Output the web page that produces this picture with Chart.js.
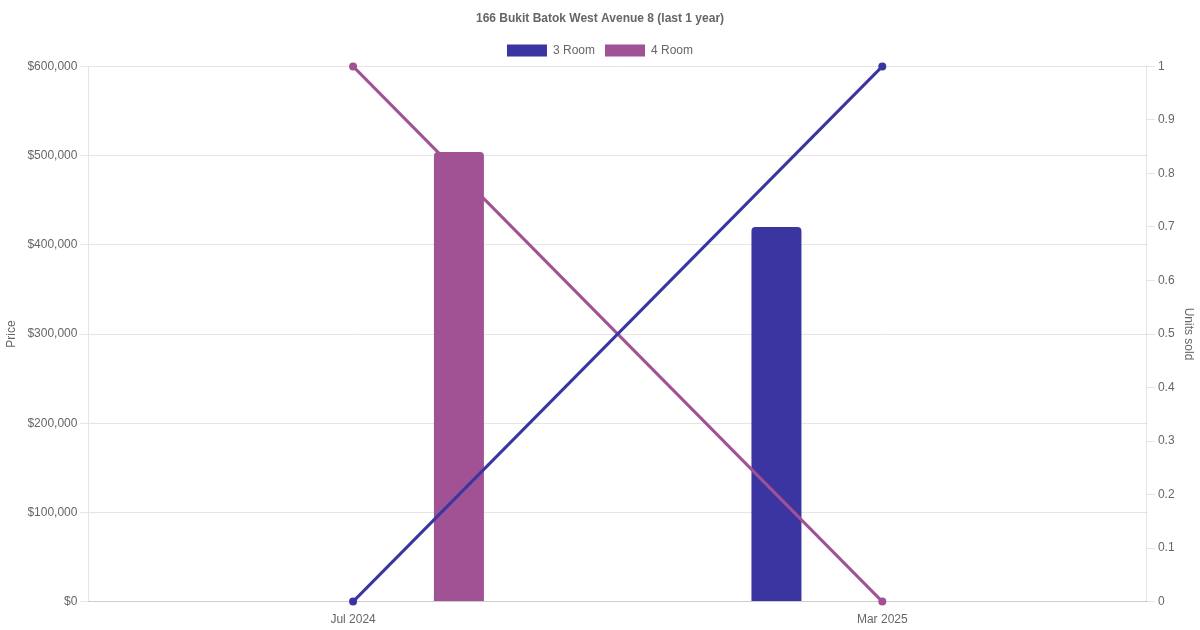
<!DOCTYPE html>
<html>
<head>
<meta charset="utf-8">
<script src="https://cdn.jsdelivr.net/npm/chart.js@4/dist/chart.umd.min.js"></script>
<style>
html,body{margin:0;padding:0;background:#fff;}
#wrap{width:1200px;height:630px;}
</style>
</head>
<body>
<div id="wrap"><canvas id="c"></canvas></div>
<script>
const categories = ["Jul 2024", "Mar 2025"];
const price3Room = [null, 420000];
const price4Room = [504000, null];
const units3Room = [0, 1];
const units4Room = [1, 0];
const priceTicks = [0, 100000, 200000, 300000, 400000, 500000, 600000];

const c3 = "#3a35a1";
const c4 = "#a05294";

Chart.defaults.font.family = "'Liberation Sans', Arial, sans-serif";
Chart.defaults.color = "#666";

new Chart(document.getElementById("c"), {
  data: {
    labels: categories,
    datasets: [
      { type: "bar", label: "3 Room", data: price3Room, backgroundColor: c3, borderColor: c3, yAxisID: "y", maxBarThickness: 50, borderRadius: 4, borderSkipped: "bottom", order: 2 },
      { type: "bar", label: "4 Room", data: price4Room, backgroundColor: c4, borderColor: c4, yAxisID: "y", maxBarThickness: 50, borderRadius: 4, borderSkipped: "bottom", order: 2 },
      { type: "line", label: "3 Room units", data: units3Room, borderColor: c3, backgroundColor: c3, yAxisID: "y1", borderWidth: 3, pointRadius: 3, pointBorderWidth: 2, clip: false, order: 1 },
      { type: "line", label: "4 Room units", data: units4Room, borderColor: c4, backgroundColor: c4, yAxisID: "y1", borderWidth: 3, pointRadius: 3, pointBorderWidth: 2, clip: false, order: 1 }
    ]
  },
  options: {
    responsive: true,
    maintainAspectRatio: false,
    animation: false,
    plugins: {
      title: { display: true, text: "166 Bukit Batok West Avenue 8 (last 1 year)", font: { size: 12, weight: "bold" }, color: "#666", padding: { top: 11, bottom: 9 } },
      legend: {
        labels: { filter: (item) => item.datasetIndex < 2, boxWidth: 40, boxHeight: 12, font: { size: 12 } }
      },
      tooltip: { enabled: false }
    },
    scales: {
      x: { grid: { display: false }, ticks: { font: { size: 12 } } },
      y: {
        position: "left", min: 0, max: 600000,
        afterBuildTicks: (axis) => { axis.ticks = priceTicks.map(v => ({ value: v })); },
        ticks: { padding: 3, callback: (v) => "$" + Number(v).toLocaleString("en-US"), font: { size: 12 } },
        title: { display: true, text: "Price", font: { size: 12 }, padding: { top: 4, bottom: 6 } },
        grid: { color: "#e5e5e5" }
      },
      y1: {
        position: "right", min: 0, max: 1,
        ticks: { stepSize: 0.1, callback: (v) => String(Math.round(v * 10) / 10), font: { size: 12 } },
        title: { display: true, text: "Units sold", font: { size: 12 } },
        grid: { drawOnChartArea: false, color: "#e5e5e5" }
      }
    }
  }
});
</script>
</body>
</html>
